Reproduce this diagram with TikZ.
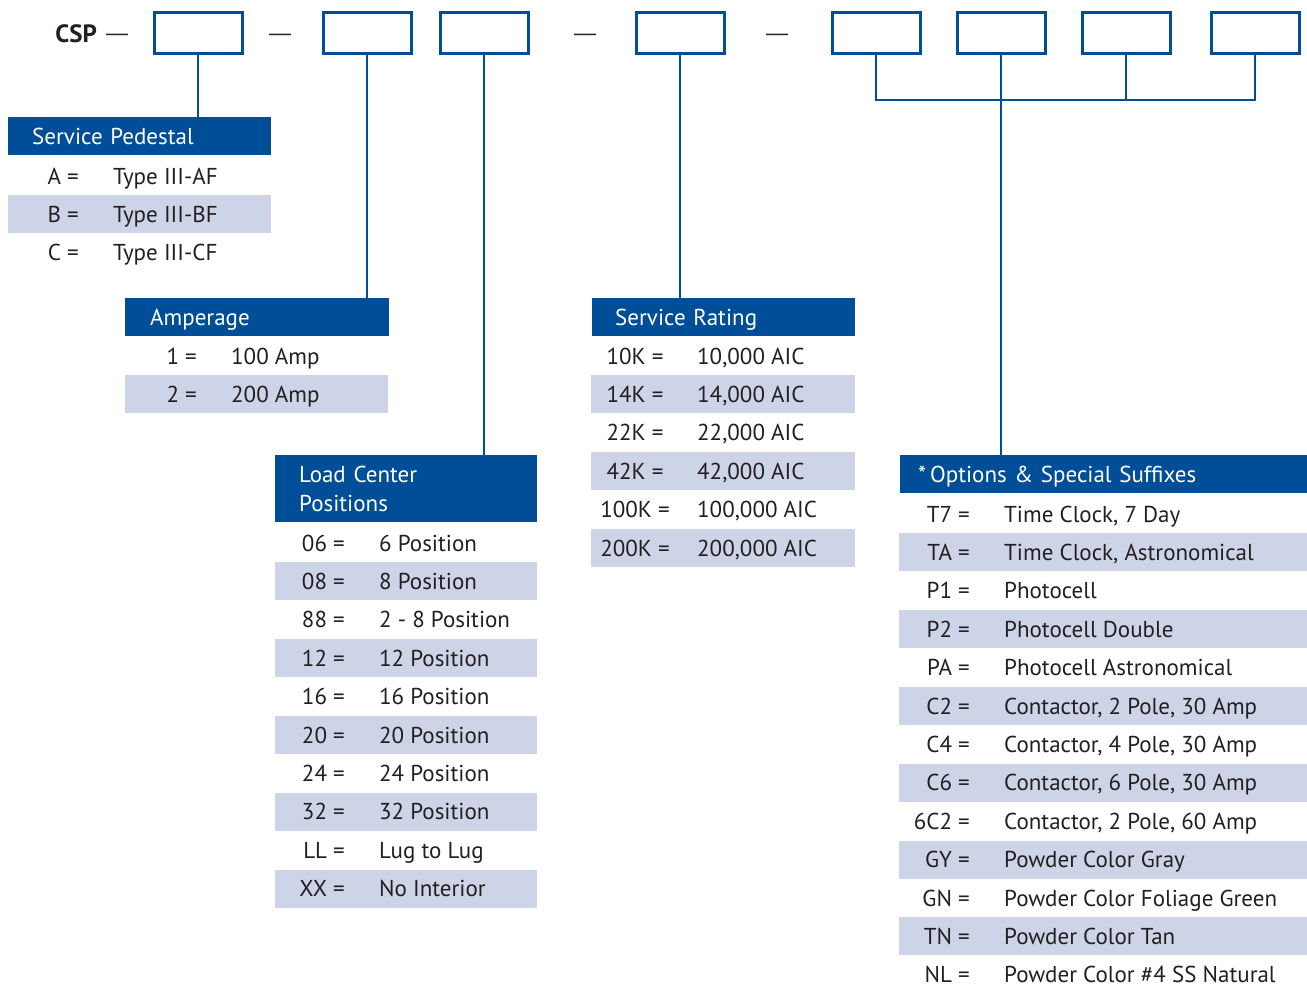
\documentclass[tikz,border=0pt]{standalone}
\usepackage{fontspec}
\setmainfont{PT Sans}
\newfontfamily\dashfont{Liberation Sans}
\usepackage{xcolor}
\definecolor{cspblue}{RGB}{0,78,152}
\definecolor{cspband}{RGB}{206,212,232}
\definecolor{ink}{RGB}{35,31,32}
\tikzset{
  slot/.style={draw=cspblue, line width=3pt, minimum width=88pt, minimum height=41pt, inner sep=0pt},
  wire/.style={draw=cspblue, line width=2.5pt},
  head/.style={fill=cspblue, text=white, anchor=north west, align=left, inner xsep=24pt, inner ysep=0pt, minimum height=38pt, font=\fontsize{23}{29}\selectfont},
  stripe/.style={fill=cspband},
  code/.style={anchor=east, inner sep=0pt, text height=16pt, text depth=0pt, text=ink, font=\fontsize{23}{25}\selectfont},
  val/.style={anchor=west, inner sep=0pt, text height=16pt, text depth=0pt, text=ink, font=\fontsize{23}{25}\selectfont},
  sepdash/.style={inner sep=0pt, text=ink, font=\dashfont\fontsize{22}{25}\selectfont}
}
\begin{document}
\begin{tikzpicture}[x=1pt,y=-1pt]
\useasboundingbox (0,0) rectangle (1307,985);

% part number
\node[code, font=\bfseries\fontsize{25}{25}\selectfont] (csp) at (97,34) {CSP};
\node[sepdash] (d0) at (117,37) {—};
\node[slot] (b1) at (198,32.5) {};
\node[sepdash] (d1) at (280,37) {—};
\node[slot] (b2) at (367,32.5) {};
\node[slot] (b3) at (484,32.5) {};
\node[sepdash] (d2) at (585,37) {—};
\node[slot] (b4) at (680,32.5) {};
\node[sepdash] (d3) at (777,37) {—};
\node[slot] (b5) at (876,32.5) {};
\node[slot] (b6) at (1001,32.5) {};
\node[slot] (b7) at (1126,32.5) {};
\node[slot] (b8) at (1255,32.5) {};
\coordinate (bus) at (1001,100);

% service pedestal
\node[head, text height=16pt, text depth=0pt, text width=215pt] (sp) at (8,117) {Service Pedestal};
\fill[stripe] (8,195) rectangle (271,233);
\node[code] (sp1c) at (79,176) {A =};  \node[val] (sp1v) at (113,176) {Type III-AF};
\node[code] (sp2c) at (79,214) {B =};  \node[val] (sp2v) at (113,214) {Type III-BF};
\node[code] (sp3c) at (79,252) {C =};  \node[val] (sp3v) at (113,252) {Type III-CF};

% amperage
\node[head, text height=16pt, text depth=0pt, text width=214pt, inner xsep=25pt] (am) at (125,298) {Amperage};
\fill[stripe] (125,375) rectangle (388,413);
\node[code] (am1c) at (197,356) {1 =};  \node[val] (am1v) at (231,356) {100 Amp};
\node[code] (am2c) at (197,394) {2 =};  \node[val] (am2v) at (231,394) {200 Amp};

% load center
\node[head, text width=214pt, minimum height=67pt] (lc) at (275,455) {Load Center\\Positions};
\fill[stripe] (275,562.4) rectangle (537,600.4);
\fill[stripe] (275,639.2) rectangle (537,677.2);
\fill[stripe] (275,716) rectangle (537,754);
\fill[stripe] (275,792.8) rectangle (537,830.8);
\fill[stripe] (275,869.6) rectangle (537,907.6);
\node[code] (lc1c) at (345,543) {06 =};    \node[val] (lc1v) at (379,543) {6 Position};
\node[code] (lc2c) at (345,581.4) {08 =};  \node[val] (lc2v) at (379,581.4) {8 Position};
\node[code] (lc3c) at (345,619.8) {88 =};  \node[val] (lc3v) at (379,619.8) {2 - 8 Position};
\node[code] (lc4c) at (345,658.2) {12 =};  \node[val] (lc4v) at (379,658.2) {12 Position};
\node[code] (lc5c) at (345,696.6) {16 =};  \node[val] (lc5v) at (379,696.6) {16 Position};
\node[code] (lc6c) at (345,735) {20 =};    \node[val] (lc6v) at (379,735) {20 Position};
\node[code] (lc7c) at (345,773.4) {24 =};  \node[val] (lc7v) at (379,773.4) {24 Position};
\node[code] (lc8c) at (345,811.8) {32 =};  \node[val] (lc8v) at (379,811.8) {32 Position};
\node[code] (lc9c) at (345,850.2) {LL =};  \node[val] (lc9v) at (379,850.2) {Lug to Lug};
\node[code] (lc10c) at (345,888.6) {XX =}; \node[val] (lc10v) at (379,888.6) {No Interior};

% service rating
\node[head, text height=16pt, text depth=0pt, text width=217pt, inner xsep=23pt] (sr) at (592,298) {Service Rating};
\fill[stripe] (591,375.4) rectangle (855,413.4);
\fill[stripe] (591,452.2) rectangle (855,490.2);
\fill[stripe] (591,529) rectangle (855,567);
\node[code, anchor=center] (sr1c) at (635,356) {10K =};     \node[val] (sr1v) at (697,356) {10,000 AIC};
\node[code, anchor=center] (sr2c) at (635,394.4) {14K =};   \node[val] (sr2v) at (697,394.4) {14,000 AIC};
\node[code, anchor=center] (sr3c) at (635,432.8) {22K =};   \node[val] (sr3v) at (697,432.8) {22,000 AIC};
\node[code, anchor=center] (sr4c) at (635,471.2) {42K =};   \node[val] (sr4v) at (697,471.2) {42,000 AIC};
\node[code, anchor=center] (sr5c) at (635,509.6) {100K =};  \node[val] (sr5v) at (697,509.6) {100,000 AIC};
\node[code, anchor=center] (sr6c) at (635,548) {200K =};    \node[val] (sr6v) at (697,548) {200,000 AIC};

% options
\node[head, text height=16pt, text depth=0pt, text width=371pt, inner xsep=18pt] (op) at (900,455) {*\,Options \& Special Suffixes};
\fill[stripe] (899,533.4) rectangle (1307,571.4);
\fill[stripe] (899,610.2) rectangle (1307,648.2);
\fill[stripe] (899,687) rectangle (1307,725);
\fill[stripe] (899,763.8) rectangle (1307,801.8);
\fill[stripe] (899,840.6) rectangle (1307,878.6);
\fill[stripe] (899,917.4) rectangle (1307,955.4);
\node[code] (op1c) at (970,514) {T7 =};     \node[val] (op1v) at (1004,514) {Time Clock, 7 Day};
\node[code] (op2c) at (970,552.4) {TA =};   \node[val] (op2v) at (1004,552.4) {Time Clock, Astronomical};
\node[code] (op3c) at (970,590.8) {P1 =};   \node[val] (op3v) at (1004,590.8) {Photocell};
\node[code] (op4c) at (970,629.2) {P2 =};   \node[val] (op4v) at (1004,629.2) {Photocell Double};
\node[code] (op5c) at (970,667.6) {PA =};   \node[val] (op5v) at (1004,667.6) {Photocell Astronomical};
\node[code] (op6c) at (970,706) {C2 =};     \node[val] (op6v) at (1004,706) {Contactor, 2 Pole, 30 Amp};
\node[code] (op7c) at (970,744.4) {C4 =};   \node[val] (op7v) at (1004,744.4) {Contactor, 4 Pole, 30 Amp};
\node[code] (op8c) at (970,782.8) {C6 =};   \node[val] (op8v) at (1004,782.8) {Contactor, 6 Pole, 30 Amp};
\node[code] (op9c) at (970,821.2) {6C2 =};  \node[val] (op9v) at (1004,821.2) {Contactor, 2 Pole, 60 Amp};
\node[code] (op10c) at (970,859.6) {GY =};  \node[val] (op10v) at (1004,859.6) {Powder Color Gray};
\node[code] (op11c) at (970,898) {GN =};    \node[val] (op11v) at (1004,898) {Powder Color Foliage Green};
\node[code] (op12c) at (970,936.4) {TN =};  \node[val] (op12v) at (1004,936.4) {Powder Color Tan};
\node[code] (op13c) at (970,974) {NL =};    \node[val] (op13v) at (1004,974) {Powder Color \#4 SS Natural};

% connectors
\draw[wire] (b1.south) -- (b1 |- sp.north);
\draw[wire] (b2.south) -- (b2 |- am.north);
\draw[wire] (b3.south) -- (b3 |- lc.north);
\draw[wire] (b4.south) -- (b4 |- sr.north);
\draw[wire] (b5.south) -- (b5 |- bus) -- (b8 |- bus) -- (b8.south);
\draw[wire] (b7.south) -- (b7 |- bus);
\draw[wire] (b6.south) -- (b6 |- op.north);
\end{tikzpicture}
\end{document}
